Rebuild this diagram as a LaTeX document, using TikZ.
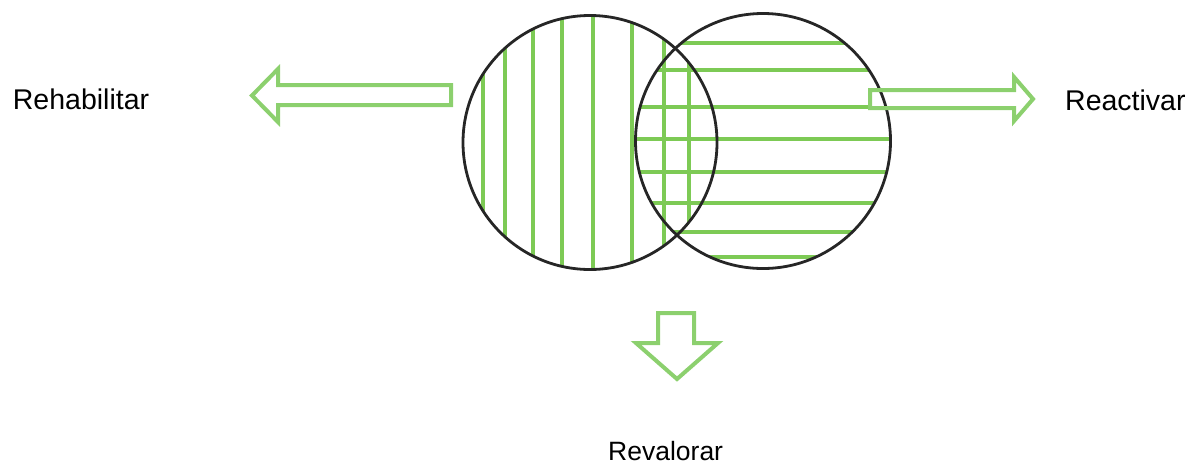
\documentclass[tikz,border=0pt]{standalone}
\usepackage{fontspec}
\setmainfont{Liberation Sans}
\definecolor{hatch}{RGB}{125,202,85}
\definecolor{arrowgreen}{RGB}{140,208,110}
\begin{document}
\begin{tikzpicture}[x=1pt,y=-1pt,
  ring/.style={draw=black!85,line width=2.8pt},
  hatchline/.style={draw=hatch,line width=4.2pt},
  blockarrow/.style={draw=arrowgreen,line width=4pt,line join=miter},
  label/.style={anchor=base west,inner sep=0pt,font=\fontsize{28.5}{34}\selectfont}]
\useasboundingbox (0,0) rectangle (1193,464);
% vertical hatching in left circle
\begin{scope}
  \clip (590,142.5) circle (128);
  \foreach \x in {482.7,505,532.7,561.7,593.3,632.3,664,689.3}
    \draw[hatchline] (\x,10) -- (\x,275);
\end{scope}
% horizontal hatching in right circle
\begin{scope}
  \clip (763,141) circle (128);
  \foreach \y in {43.3,70,139.3,172.3,203.3,231.7,256.7}
    \draw[hatchline] (630,\y) -- (895,\y);
  \draw[hatchline] (630,106.7) -- (869,106.7);
\end{scope}
% circles
\draw[ring] (590,142.5) circle (127);
\draw[ring] (763,141) circle (127.5);
% block arrows
\draw[blockarrow] (451,85) -- (278,85) -- (278,69) -- (252,95.5) -- (278,122) -- (278,105) -- (451,105) -- cycle;
\draw[blockarrow] (870,90) -- (1014,90) -- (1014,77) -- (1033,99) -- (1014,121) -- (1014,108) -- (870,108) -- cycle;
\draw[blockarrow] (658,313) -- (694,313) -- (694,343) -- (718,343) -- (677,379) -- (636,343) -- (658,343) -- cycle;
% labels
\node[label] (rehab) at (12.7,109.5) {Rehabilitar};
\node[label] (react) at (1065,110) {Reactivar};
\node[label,font=\fontsize{26.5}{32}\selectfont] (reval) at (608,460) {Revalorar};
\end{tikzpicture}
\end{document}
